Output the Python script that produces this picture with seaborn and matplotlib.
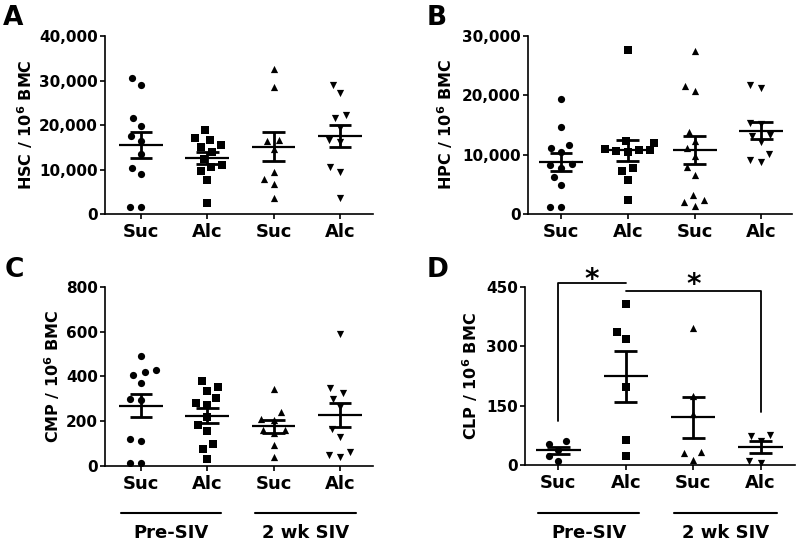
import numpy as np
import pandas as pd
import matplotlib
matplotlib.use('Agg')
import matplotlib.pyplot as plt
import seaborn as sns
from matplotlib.ticker import FuncFormatter

# ---------------- data ----------------
groups = ['Pre-SIV Suc', 'Pre-SIV Alc', '2 wk SIV Suc', '2 wk SIV Alc']
tick_labels = ['Suc', 'Alc', 'Suc', 'Alc']
markers = ['o', 's', '^', 'v']
phase_labels = ['Pre-SIV', '2 wk SIV']
panel_letters = ['A', 'B', 'C', 'D']

hsc_pre_suc = [30600, 29000, 21500, 19800, 17500, 16400, 13400, 10300, 8900, 1500, 1650]
hsc_pre_alc = [18800, 17000, 16600, 15400, 15000, 14000, 12300, 11000, 10500, 9600, 7600, 2500]
hsc_siv_suc = [32600, 28500, 16600, 16500, 14500, 9400, 7900, 6700, 3700]
hsc_siv_alc = [29100, 27100, 22300, 21500, 19300, 16100, 16600, 10500, 9400, 3700]

hpc_pre_suc = [19400, 14700, 11100, 11700, 10400, 8400, 8200, 7700, 6300, 4900, 1100, 1200]
hpc_pre_alc = [27600, 12300, 12000, 11000, 10800, 10800, 10700, 10500, 7800, 7300, 5700, 2400]
hpc_siv_suc = [27400, 20700, 21600, 13800, 12300, 11100, 9800, 8000, 6600, 2400, 1400, 2000, 3200]
hpc_siv_alc = [21700, 21200, 15100, 15400, 13200, 13300, 12100, 10100, 8800, 9100]

cmp_pre_suc = [492, 407, 427, 418, 373, 295, 298, 119, 113, 12, 12]
cmp_pre_alc = [378, 351, 336, 303, 281, 273, 221, 184, 158, 98, 75, 30]
cmp_siv_suc = [343, 243, 209, 206, 161, 149, 161, 94, 39]
cmp_siv_alc = [591, 348, 325, 301, 263, 166, 131, 64, 42, 49]

clp_pre_suc = [54, 60, 39, 24, 9]
clp_pre_alc = [408, 336, 319, 197, 62, 22]
clp_siv_suc = [346, 175, 130, 32, 30, 13]
clp_siv_alc = [74, 77, 60, 5, 9]

ylabels = ['HSC / 10$^6$ BMC', 'HPC / 10$^6$ BMC', 'CMP / 10$^6$ BMC', 'CLP / 10$^6$ BMC']
yticks_list = [[0, 10000, 20000, 30000, 40000], [0, 10000, 20000, 30000],
               [0, 200, 400, 600, 800], [0, 150, 300, 450]]

# significance brackets (panel D): (x path, y path), star anchor
sig_paths = [([0, 0, 1], [110, 460, 460]), ([1, 3, 3], [439, 439, 135])]
sig_stars = [(0.5, 432), (2, 420)]

# ---------------- style ----------------
sns.set_theme(style='ticks')
plt.rcParams['font.family'] = ['DejaVu Sans']
plt.rcParams['font.weight'] = 'bold'
plt.rcParams['mathtext.fontset'] = 'dejavusans'
plt.rcParams['mathtext.default'] = 'bf'
plt.rcParams['axes.linewidth'] = 1.2
for k in ['text.color', 'axes.labelcolor', 'xtick.color', 'ytick.color', 'axes.edgecolor']:
    plt.rcParams[k] = 'black'

fig = plt.figure(figsize=(8, 5.45), dpi=100)
ax_rects = [[0.13125, 0.6073, 0.335, 0.3266],
            [0.66, 0.6073, 0.33, 0.3266],
            [0.13125, 0.145, 0.335, 0.3284],
            [0.65625, 0.1468, 0.3375, 0.3266]]
xlims = [(-0.543, 3.5), (-0.495, 3.46), (-0.543, 3.5), (-0.495, 3.51)]
ylabel_x = [-0.262, -0.278, -0.162, -0.168]
letter_pos = [(3, 25), (427, 25), (5, 277), (427, 277)]

datasets = [
    [hsc_pre_suc, hsc_pre_alc, hsc_siv_suc, hsc_siv_alc],
    [hpc_pre_suc, hpc_pre_alc, hpc_siv_suc, hpc_siv_alc],
    [cmp_pre_suc, cmp_pre_alc, cmp_siv_suc, cmp_siv_alc],
    [clp_pre_suc, clp_pre_alc, clp_siv_suc, clp_siv_alc],
]

pos = np.arange(len(groups))
for i, (rect, data) in enumerate(zip(ax_rects, datasets)):
    ax = fig.add_axes(rect)
    df = pd.DataFrame({
        'group': np.concatenate([[g] * len(v) for g, v in zip(groups, data)]),
        'value': np.concatenate([np.asarray(v, float) for v in data]),
    })
    for g, m in zip(groups, markers):
        sub = df[df['group'] == g]
        # transparent edge widens the swarm spacing like the original layout
        sns.swarmplot(data=sub, x='group', y='value', order=groups, marker=m,
                      color='black', size=5.2, linewidth=2.6,
                      edgecolor=(1, 1, 1, 0), ax=ax, zorder=2.2)
    stats = df.groupby('group')['value'].agg(['mean', 'sem']).reindex(groups)
    mu = stats['mean'].values
    se = stats['sem'].values
    ax.hlines(mu, pos - 0.33, pos + 0.33, color='black', lw=1.6, zorder=4)
    ax.vlines(pos, mu - se, mu + se, color='black', lw=2.0, zorder=4)
    ax.hlines(mu + se, pos - 0.17, pos + 0.17, color='black', lw=2.0, zorder=4)
    ax.hlines(mu - se, pos - 0.17, pos + 0.17, color='black', lw=2.0, zorder=4)

    yt = yticks_list[i]
    ax.set_ylim(yt[0], yt[-1])
    ax.set_yticks(yt)
    ax.yaxis.set_major_formatter(FuncFormatter(lambda v, p: f'{v:,.0f}'))
    ax.set_xlim(*xlims[i])
    ax.set_xticks(pos)
    ax.set_xticklabels(tick_labels, fontsize=13, fontweight='bold')
    ax.tick_params(axis='y', labelsize=11, length=3.6, width=1.2, pad=1.5,
                   direction='out', colors='black')
    ax.tick_params(axis='x', length=3.6, width=1.2, pad=3, direction='out',
                   colors='black')
    for lab in ax.get_yticklabels():
        lab.set_fontweight('bold')
    ax.set_xlabel('')
    ax.set_ylabel(ylabels[i], fontsize=11.5, fontweight='bold', color='black')
    ax.yaxis.set_label_coords(ylabel_x[i], 0.5)
    sns.despine(ax=ax)
    ax.set_facecolor('white')

    lx, ly = letter_pos[i]
    fig.text(lx / 800, 1 - ly / 545, panel_letters[i], fontsize=19,
             fontweight='bold', ha='left', va='baseline', color='black')

    if i >= 2:
        trans = ax.get_xaxis_transform()
        y_line = -0.261 if i == 2 else -0.268
        y_text = -0.404 if i == 2 else -0.412
        spans = [(-0.3, 1.2), (1.72, 3.25)]
        for (x0, x1), lab in zip(spans, phase_labels):
            ax.plot([x0, x1], [y_line, y_line], transform=trans, color='black',
                    lw=1.5, clip_on=False)
            ax.text((x0 + x1) / 2, y_text, lab, transform=trans, ha='center',
                    va='baseline', fontsize=13, fontweight='bold', color='black')

    if i == 3:
        for (xs, ys) in sig_paths:
            ax.plot(xs, ys, color='black', lw=1.3, clip_on=False)
        for (sx, sy) in sig_stars:
            ax.text(sx, sy, '*', ha='center', va='bottom', fontsize=20,
                    fontweight='bold', clip_on=False, color='black')

fig.savefig('out.png', dpi=100, facecolor='white')
